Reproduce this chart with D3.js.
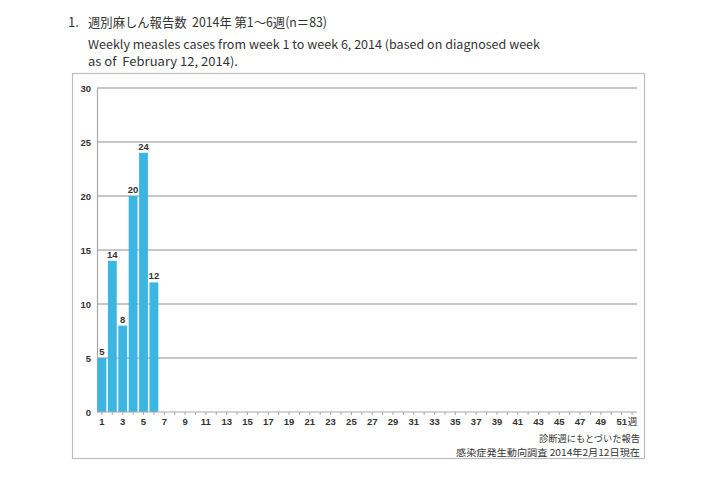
<!DOCTYPE html>
<html>
<head>
<meta charset="utf-8">
<script src="https://cdn.jsdelivr.net/npm/d3@7"></script>
<style>
  html, body { margin: 0; padding: 0; background: #fff; }
  svg { display: block; }
  text { font-family: "Noto Sans CJK JP", "Noto Sans", sans-serif; fill: #333; }
</style>
</head>
<body>
<svg id="chart" width="720" height="480"></svg>
<script>
// Weekly measles reports, 2014 weeks 1-6 (by week of diagnosis)
const weeks = d3.range(1, 53);
const reportedWeeks = [1, 2, 3, 4, 5, 6];
const cases = [5, 14, 8, 20, 24, 12];
const yTicks = [0, 5, 10, 15, 20, 25, 30];
const xTickLabels = d3.range(1, 52, 2);

const titleJa = "週別麻しん報告数  2014年 第1〜6週(n＝83)";
const titleEn1 = "Weekly measles cases from week 1 to week 6, 2014 (based on diagnosed week";
const titleEn2 = "as of  February 12, 2014).";
const noteBasis = "診断週にもとづいた報告";
const noteSource = "感染症発生動向調査 2014年2月12日現在";
const weekUnit = "週";

const svg = d3.select("#chart");

const plot = { left: 97, right: 637, top: 88, bottom: 412 };

const x = d3.scaleBand()
  .domain(weeks)
  .range([plot.left, plot.right])
  .paddingInner(0.15)
  .paddingOuter(0.05);

const y = d3.scaleLinear()
  .domain([0, 30])
  .range([plot.bottom, plot.top]);

const numFont = "'Liberation Sans', Arial, sans-serif";

// Title block
svg.append("text").attr("x", 68).attr("y", 27)
  .attr("font-size", 13).text("1.");
svg.append("text").attr("x", 88).attr("y", 27)
  .attr("font-size", 13).attr("xml:space", "preserve")
  .attr("textLength", 239).attr("lengthAdjust", "spacingAndGlyphs")
  .text(titleJa);
svg.append("text").attr("x", 88).attr("y", 49)
  .attr("font-size", 12).attr("fill", "#3a3a3a")
  .attr("textLength", 452).attr("lengthAdjust", "spacingAndGlyphs")
  .text(titleEn1);
svg.append("text").attr("x", 88).attr("y", 66)
  .attr("font-size", 12).attr("fill", "#3a3a3a").attr("xml:space", "preserve")
  .attr("textLength", 150).attr("lengthAdjust", "spacingAndGlyphs")
  .text(titleEn2);

// Outer frame
svg.append("rect")
  .attr("x", 72.5).attr("y", 73.5)
  .attr("width", 572).attr("height", 385)
  .attr("fill", "none").attr("stroke", "#bdbdbd").attr("stroke-width", 1.2);

// Horizontal gridlines
svg.append("g")
  .selectAll("line")
  .data(yTicks.filter(d => d > 0))
  .join("line")
  .attr("x1", plot.left).attr("x2", plot.right)
  .attr("y1", d => y(d)).attr("y2", d => y(d))
  .attr("stroke", "#b4b4b4").attr("stroke-width", 1.4);

// Y axis
const yAxis = d3.axisLeft(y).tickValues(yTicks).tickSize(0).tickPadding(6);
const gy = svg.append("g").attr("transform", `translate(${plot.left},0)`).call(yAxis);
gy.select(".domain").attr("stroke", "#a8a8a8").attr("stroke-width", 1.2);
gy.selectAll("text").attr("font-size", 9.5).attr("font-weight", "bold")
  .style("font-family", numFont).attr("fill", "#444");

// Bars
const barData = reportedWeeks.map((w, i) => ({ week: w, value: cases[i] }));
svg.append("g")
  .selectAll("rect")
  .data(barData)
  .join("rect")
  .attr("x", d => x(d.week))
  .attr("width", x.bandwidth())
  .attr("y", d => y(d.value))
  .attr("height", d => y(0) - y(d.value))
  .attr("fill", "#3bb5e2");

// Value labels
svg.append("g")
  .selectAll("text")
  .data(barData)
  .join("text")
  .attr("x", d => x(d.week) + x.bandwidth() / 2)
  .attr("y", d => y(d.value) - 3)
  .attr("text-anchor", "middle")
  .attr("font-size", 9.5).attr("font-weight", "bold")
  .style("font-family", numFont)
  .attr("fill", "#333")
  .text(d => d.value);

// X axis: baseline, week ticks, odd-week labels
const gx = svg.append("g");
gx.append("line")
  .attr("x1", plot.left).attr("x2", plot.right)
  .attr("y1", plot.bottom).attr("y2", plot.bottom)
  .attr("stroke", "#a8a8a8").attr("stroke-width", 1.2);
gx.selectAll("line.tick")
  .data(weeks)
  .join("line")
  .attr("class", "tick")
  .attr("x1", d => x(d) + x.bandwidth() / 2).attr("x2", d => x(d) + x.bandwidth() / 2)
  .attr("y1", plot.bottom).attr("y2", plot.bottom + 3)
  .attr("stroke", "#a8a8a8").attr("stroke-width", 1);
gx.selectAll("text")
  .data(xTickLabels)
  .join("text")
  .attr("x", d => x(d) + x.bandwidth() / 2)
  .attr("y", plot.bottom + 13)
  .attr("text-anchor", "middle")
  .attr("font-size", 9.5).attr("font-weight", "bold")
  .style("font-family", numFont)
  .attr("fill", "#444")
  .text(d => d);
svg.append("text")
  .attr("x", x(51) + x.bandwidth() / 2 + 6)
  .attr("y", plot.bottom + 13)
  .attr("font-size", 9.5).attr("fill", "#444")
  .text(weekUnit);

// Footnotes
svg.append("text").attr("x", 640).attr("y", 442)
  .attr("text-anchor", "end").attr("font-size", 9.5)
  .attr("textLength", 101).attr("lengthAdjust", "spacingAndGlyphs")
  .text(noteBasis);
svg.append("text").attr("x", 640).attr("y", 456)
  .attr("text-anchor", "end").attr("font-size", 9.5)
  .attr("textLength", 184).attr("lengthAdjust", "spacingAndGlyphs")
  .text(noteSource);
</script>
</body>
</html>
